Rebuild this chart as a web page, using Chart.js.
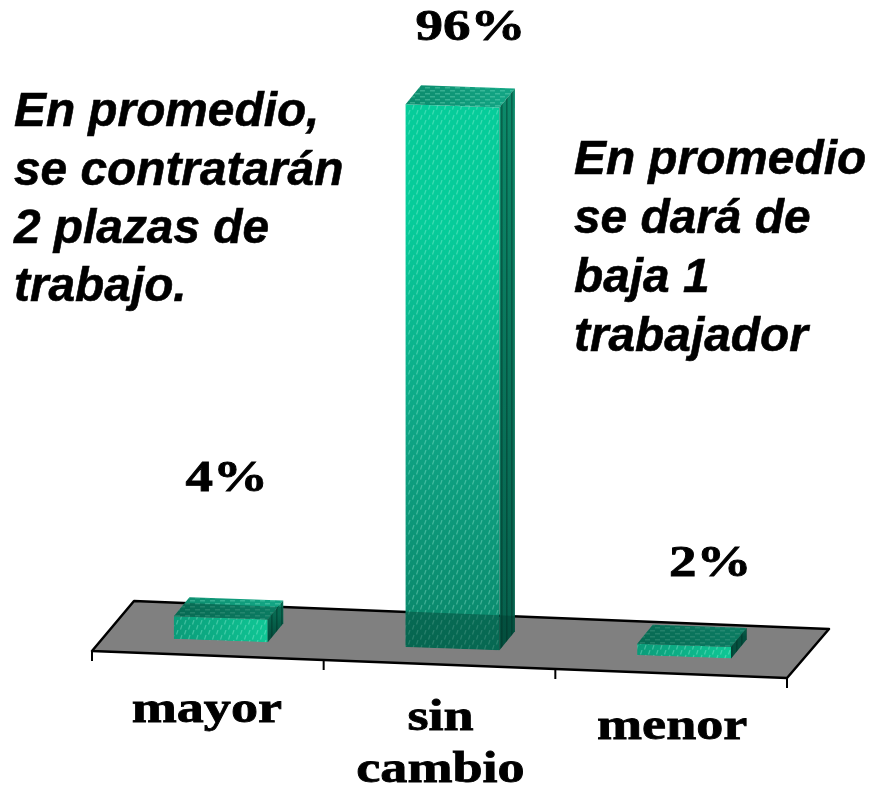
<!DOCTYPE html>
<html>
<head>
<meta charset="utf-8">
<title>Plazas de trabajo</title>
<style>
  html, body { margin: 0; padding: 0; background: #fff; }
  #wrap { width: 870px; height: 789px; }
</style>
<script src="https://cdn.jsdelivr.net/npm/chart.js@4/dist/chart.umd.min.js"></script>
</head>
<body>
<div id="wrap"><canvas id="chart" width="870" height="789"></canvas></div>
<script>
const categories = [["mayor"], ["sin", "cambio"], ["menor"]];
const values = [4, 96, 2];
const noteLeft = ["En promedio,", "se contratarán", "2 plazas de", "trabajo."];
const noteRight = ["En promedio", "se dará de", "baja 1", "trabajador"];

// layout of the fake 3D, in px
const SLOPE = 0.035;
const INSET = 13; // bars sit this far right of the floor's front ticks
const DEPTH = { x: 15.5, y: -19 };
const FLOOR = { front: 14.5, rise: 27, dx: 42, dy: -50 };
const labelSpots = [
  { dx: -14, y: 711 },
  { dx: -12, y: 719, lineH: 52 },
  { dx: -12, y: 728 },
];
const valueSpots = [
  { dx: 6, y: 480 },
  { dx: 18, y: 29 },
  { dx: 26, y: 565 },
];

function tile(w, h, bg, draw) {
  const c = document.createElement("canvas");
  c.width = w;
  c.height = h;
  const g = c.getContext("2d");
  if (bg) { g.fillStyle = bg; g.fillRect(0, 0, w, h); }
  draw(g);
  return c;
}

// short slanted streaks on the front faces
const frontTile = tile(8, 10, null, (g) => {
  g.strokeStyle = "rgba(190,255,235,.3)";
  g.lineWidth = 1.2;
  g.beginPath();
  g.moveTo(0.5, 4.5); g.lineTo(2, 0);
  g.moveTo(4.5, 9.5); g.lineTo(6, 5);
  g.stroke();
});
const topTile = tile(10, 6, null, (g) => {
  g.fillStyle = "rgba(150,240,210,.3)";
  g.fillRect(0, 0, 5, 1.5);
  g.fillRect(5, 3, 5, 1.5);
});
const sideTile = tile(5, 8, null, (g) => {
  g.fillStyle = "rgba(0,40,30,.4)";
  g.fillRect(1, 0, 1.6, 8);
});

function polygon(ctx, pts) {
  ctx.beginPath();
  pts.forEach((p, i) => (i ? ctx.lineTo(p[0], p[1]) : ctx.moveTo(p[0], p[1])));
  ctx.closePath();
}

function fillFace(ctx, pts, fill, hatch) {
  polygon(ctx, pts);
  ctx.fillStyle = fill;
  ctx.fill();
  if (hatch) {
    ctx.fillStyle = ctx.createPattern(hatch, "repeat");
    ctx.fill();
  }
}

function stretchedText(ctx, text, x, y, font, sx) {
  ctx.save();
  ctx.translate(x, y);
  ctx.scale(sx, 1);
  ctx.font = font;
  ctx.fillStyle = "#000";
  ctx.strokeStyle = "#000";
  ctx.lineWidth = 0.8;
  ctx.textBaseline = "middle";
  ctx.textAlign = "center";
  ctx.fillText(text, 0, 0);
  ctx.strokeText(text, 0, 0);
  ctx.restore();
}

function leftText(ctx, text, x, y, font) {
  ctx.font = font;
  ctx.fillStyle = "#000";
  ctx.strokeStyle = "#000";
  ctx.lineWidth = 0.6;
  ctx.textBaseline = "middle";
  ctx.textAlign = "left";
  ctx.fillText(text, x, y);
  ctx.strokeText(text, x, y);
}

const barsIn3d = {
  id: "barsIn3d",
  beforeDatasetsDraw(chart) {
    const { ctx, chartArea: a, scales } = chart;
    const y0 = scales.y.getPixelForValue(0);
    const left = a.left - INSET;
    const right = a.right - INSET;
    const pts = [
      [left, y0 + FLOOR.front],
      [left + FLOOR.dx, y0 + FLOOR.front + FLOOR.dy],
      [right + FLOOR.dx, y0 + FLOOR.front + FLOOR.dy + FLOOR.rise + 1],
      [right, y0 + FLOOR.front + FLOOR.rise],
    ];
    ctx.save();
    polygon(ctx, pts);
    ctx.fillStyle = "#808080";
    ctx.fill();
    ctx.strokeStyle = "#000";
    ctx.lineWidth = 2.5;
    ctx.lineJoin = "round";
    ctx.stroke();
    // axis ticks hang from the front edge
    const step = (right - left) / categories.length;
    ctx.lineWidth = 2;
    for (let i = 0; i <= categories.length; i++) {
      const x = left + i * step;
      const y = y0 + FLOOR.front + (FLOOR.rise * i) / categories.length;
      ctx.beginPath();
      ctx.moveTo(x, y);
      ctx.lineTo(x, y + 10);
      ctx.stroke();
    }
    ctx.restore();
  },
  beforeDatasetDraw(chart) {
    const { ctx, chartArea: a } = chart;
    ctx.save();
    ctx.transform(1, SLOPE, 0, 1, 0, -SLOPE * a.left);
  },
  afterDatasetDraw(chart) {
    const { ctx, chartArea: a, scales } = chart;
    ctx.restore();
    const sk = (x, y) => [x, y + SLOPE * (x - a.left)];
    const y0 = scales.y.getPixelForValue(0);
    const backY = (x) => y0 + FLOOR.front + FLOOR.dy + SLOPE * 1.12 * (x - (a.left - INSET) - FLOOR.dx);

    chart.getDatasetMeta(0).data.forEach((bar) => {
      const x0 = bar.x - bar.width / 2;
      const x1 = bar.x + bar.width / 2;
      const tl = sk(x0, bar.y);
      const tr = sk(x1, bar.y);
      const bl = sk(x0, bar.base);
      const br = sk(x1, bar.base);
      const back = (p) => [p[0] + DEPTH.x, p[1] + DEPTH.y];
      const front = [tl, tr, br, bl];
      const top = [tl, tr, back(tr), back(tl)];
      const side = [tr, back(tr), back(br), br];

      const sideFill = ctx.createLinearGradient(0, bar.y, 0, bar.base);
      sideFill.addColorStop(0, "#0c8a6a");
      sideFill.addColorStop(1, "#06604c");
      const topFill = ctx.createLinearGradient(x0, 0, x1, 0);
      topFill.addColorStop(0, "#0c8a6c");
      topFill.addColorStop(1, "#12a483");

      ctx.save();
      fillFace(ctx, top, topFill, topTile);
      fillFace(ctx, side, sideFill, sideTile);
      polygon(ctx, front);
      ctx.fillStyle = ctx.createPattern(frontTile, "repeat");
      ctx.fill();

      // floor plane tints what stands in front of its back edge
      const tinted = tl[1] < backY(x0) ? [front, side] : [top, side];
      const shade = [
        [x0 - 2, backY(x0 - 2)],
        [x1 + DEPTH.x + 2, backY(x1 + DEPTH.x + 2)],
        [x1 + DEPTH.x + 2, br[1] + 6],
        [x0 - 2, br[1] + 6],
      ];
      tinted.forEach((face) => {
        ctx.save();
        polygon(ctx, face);
        ctx.clip();
        polygon(ctx, shade);
        ctx.fillStyle = "rgba(0,50,40,.36)";
        ctx.fill();
        ctx.restore();
      });
      ctx.restore();
    });
  },
  afterDraw(chart) {
    const { ctx, scales } = chart;
    const serif = 'bold 44px "Liberation Serif"';
    const sans = 'italic bold 47.8px "Liberation Sans"';
    categories.forEach((lines, i) => {
      const spot = labelSpots[i];
      lines.forEach((line, j) => {
        stretchedText(ctx, line, scales.x.getPixelForValue(i) + spot.dx, spot.y + j * (spot.lineH || 0), serif, 1.23);
      });
      const v = valueSpots[i];
      stretchedText(ctx, values[i] + "%", scales.x.getPixelForValue(i) + v.dx, v.y, serif, 1.25);
    });
    noteLeft.forEach((t, i) => leftText(ctx, t, 14, 113 + i * 58.4, sans));
    noteRight.forEach((t, i) => leftText(ctx, t, 574, 161 + i * 59, sans));
  },
};

function frontFill(context) {
  const chart = context.chart;
  if (!chart.chartArea) return "#0fae88";
  const v = values[context.dataIndex];
  const x = chart.scales.x.getPixelForValue(context.dataIndex);
  const top = chart.scales.y.getPixelForValue(v);
  const base = chart.scales.y.getPixelForValue(0);
  const g = chart.ctx.createLinearGradient(x - 48, base, x + 48, top + (base - top) * 0.25);
  if (v > 50) {
    g.addColorStop(0, "#0a8468");
    g.addColorStop(0.5, "#0ea484");
    g.addColorStop(1, "#06cc9a");
  } else {
    g.addColorStop(0, "#0a9a78");
    g.addColorStop(1, "#10c896");
  }
  return g;
}

new Chart(document.getElementById("chart"), {
  type: "bar",
  data: {
    labels: categories,
    datasets: [{
      data: values,
      backgroundColor: frontFill,
      borderWidth: 0,
      barPercentage: 0.405,
      categoryPercentage: 1,
    }],
  },
  options: {
    responsive: false,
    animation: false,
    layout: { padding: { left: 92 + INSET, right: 83 - INSET, top: 71, bottom: 152.5 } },
    plugins: { legend: { display: false }, tooltip: { enabled: false } },
    scales: {
      x: { display: false },
      y: { display: false, min: 0, max: 100 },
    },
  },
  plugins: [barsIn3d],
});
</script>
</body>
</html>
